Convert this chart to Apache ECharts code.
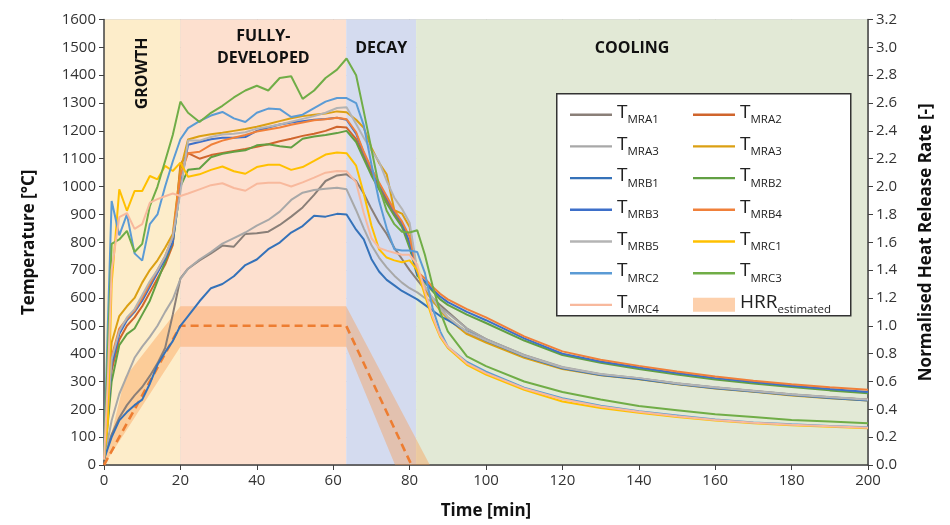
<!DOCTYPE html>
<html>
<head>
<meta charset="utf-8">
<script src="https://cdn.jsdelivr.net/npm/echarts@6/dist/echarts.min.js"></script>
<style>
  html, body { margin: 0; padding: 0; background: #fff; }
  #chart { width: 950px; height: 525px; }
</style>
</head>
<body>
<div id="chart"></div>
<script>
// time base shared by every temperature trace [min]
const times = [0, 1, 2, 4, 6, 8, 10, 12, 14, 16,
  18, 20, 22, 25, 28, 31, 34, 37, 40, 43,
  46, 49, 52, 55, 58, 61, 63.5, 66, 68, 70,
  72, 74, 76, 78, 80, 82, 84, 86, 88, 90,
  95, 100, 110, 120, 130, 140, 150, 160, 170, 180,
  190, 200];

// temperatures [°C]
const tMRA1 = [20, 70, 110, 170, 215, 250, 280, 320, 365, 420,
  540, 670, 705, 735, 760, 788, 784, 830, 832, 838,
  862, 892, 925, 970, 1020, 1040, 1044, 1020, 975, 920,
  870, 830, 780, 740, 700, 665, 630, 600, 575, 550,
  490, 452, 394, 350, 325, 311, 293, 278, 266, 253,
  243, 234];
const tMRA2 = [20, 170, 340, 450, 500, 530, 570, 620, 670, 720,
  790, 1080, 1120, 1100, 1113, 1121, 1128, 1135, 1143, 1152,
  1163, 1172, 1182, 1190, 1200, 1215, 1212, 1170, 1110, 1050,
  1000, 950, 900, 860, 790, 690, 640, 595, 560, 530,
  475, 445, 390, 348, 324, 310, 292, 277, 265, 252,
  242, 234];
const tMRA3 = [20, 90, 160, 255, 320, 385, 425, 460, 500, 550,
  595, 668, 705, 738, 765, 795, 815, 835, 860, 880,
  910, 952, 978, 988, 992, 996, 990, 915, 850, 790,
  745, 710, 680, 655, 635, 620, 600, 585, 565, 545,
  490, 452, 395, 352, 327, 312, 294, 279, 267, 254,
  244, 235];
const tMRA3b = [20, 250, 440, 535, 570, 600, 655, 700, 735, 780,
  830, 1060, 1169, 1181, 1188, 1193, 1200, 1207, 1215, 1225,
  1235, 1245, 1253, 1258, 1262, 1270, 1267, 1240, 1211, 1140,
  1085, 1044, 915, 903, 855, 690, 625, 592, 555, 525,
  470, 440, 385, 345, 322, 308, 290, 275, 263, 250,
  240, 232];
const tMRB1 = [20, 60, 100, 160, 190, 215, 235, 292, 360, 405,
  445, 500, 535, 588, 635, 650, 678, 718, 738, 775,
  799, 835, 858, 895, 892, 902, 900, 845, 810, 740,
  695, 665, 645, 625, 610, 595, 575, 555, 535, 520,
  480, 447, 390, 347, 323, 309, 291, 276, 264, 251,
  241, 232];
const tMRB2 = [20, 150, 300, 430, 470, 490, 540, 590, 660, 730,
  800, 1000, 1060, 1065, 1105, 1118, 1125, 1130, 1148, 1152,
  1145, 1140, 1172, 1180, 1185, 1192, 1200, 1160, 1100, 1040,
  990, 940, 895, 855, 780, 680, 655, 625, 595, 575,
  540, 510, 447, 395, 367, 345, 325, 307, 293, 280,
  268, 258];
const tMRB3 = [20, 180, 360, 470, 520, 550, 590, 640, 690, 740,
  800, 1000, 1150, 1160, 1170, 1175, 1175, 1178, 1200, 1212,
  1223, 1230, 1235, 1240, 1243, 1247, 1240, 1190, 1120, 1060,
  1010, 960, 910, 870, 800, 685, 660, 630, 605, 585,
  550, 520, 455, 400, 372, 350, 330, 312, 298, 285,
  273, 262];
const tMRB4 = [20, 200, 390, 490, 525, 555, 600, 650, 700, 750,
  820, 1040, 1120, 1125, 1150, 1165, 1175, 1185, 1198, 1205,
  1212, 1222, 1230, 1238, 1242, 1247, 1242, 1195, 1125, 1065,
  1015, 965, 915, 875, 820, 695, 670, 640, 615, 595,
  560, 530, 462, 408, 378, 356, 336, 318, 303, 290,
  279, 270];
const tMRB5 = [20, 200, 380, 480, 530, 560, 610, 660, 700, 750,
  820, 980, 1165, 1165, 1178, 1187, 1190, 1195, 1208, 1215,
  1223, 1233, 1243, 1253, 1265, 1282, 1285, 1225, 1175, 1130,
  1090, 1020, 960, 920, 870, 700, 640, 600, 560, 530,
  478, 448, 392, 350, 326, 312, 293, 278, 266, 253,
  243, 234];
const tMRC1 = [20, 150, 650, 990, 913, 984, 984, 1038, 1026, 1074,
  1056, 1086, 1035, 1044, 1060, 1072, 1055, 1046, 1070, 1078,
  1078, 1060, 1070, 1092, 1115, 1122, 1120, 1075, 975, 860,
  775, 745, 735, 728, 735, 700, 610, 525, 460, 420,
  360, 325, 270, 228, 205, 188, 172, 160, 150, 143,
  137, 132];
const tMRC2 = [20, 500, 948, 825, 900, 760, 734, 865, 900, 1000,
  1090, 1170, 1210, 1235, 1255, 1268, 1245, 1232, 1265, 1280,
  1278, 1250, 1258, 1282, 1305, 1318, 1318, 1300, 1220, 1080,
  950, 850, 775, 770, 770, 765, 690, 565, 480, 425,
  370, 335, 278, 240, 213, 193, 178, 163, 153, 146,
  140, 136];
const tMRC3 = [20, 400, 794, 810, 841, 765, 794, 930, 1000, 1092,
  1185, 1305, 1265, 1232, 1265, 1290, 1320, 1345, 1362, 1345,
  1390, 1396, 1315, 1345, 1390, 1420, 1460, 1400, 1270, 1135,
  1000, 913, 865, 838, 835, 843, 755, 645, 550, 480,
  390, 355, 300, 262, 235, 212, 197, 182, 172, 162,
  156, 150];
const tMRC4 = [20, 300, 700, 890, 905, 848, 865, 942, 955, 965,
  975, 966, 975, 990, 1005, 1012, 995, 985, 1010, 1014,
  1014, 1000, 1015, 1032, 1050, 1056, 1055, 1015, 905, 815,
  780, 770, 762, 755, 755, 720, 625, 535, 465, 425,
  365, 330, 275, 236, 210, 191, 175, 162, 152, 145,
  139, 134];

// estimated normalised heat release rate and its band
const hrrTime = [0, 20, 63.4, 80.5];
const hrrValue = [0, 1, 1, 0];
const bandUpperTime = [0, 5.5, 20, 63.4, 85.3];
const bandUpperValue = [0, 0.63, 1.14, 1.14, 0];
const bandLowerTime = [0, 20, 63.4, 76.2];
const bandLowerValue = [0, 0.85, 0.85, 0];

// fire phases [min]
const phaseNames = ["GROWTH", "FULLY-\nDEVELOPED", "DECAY", "COOLING"];
const phaseStart = [0, 20, 63.4, 81.7];
const phaseEnd = [20, 63.4, 81.7, 200];

const sensorNames = ["MRA1", "MRA2", "MRA3", "MRA3*", "MRB1", "MRB2", "MRB3",
  "MRB4", "MRB5", "MRC1", "MRC2", "MRC3", "MRC4"];
const sensorValues = [tMRA1, tMRA2, tMRA3, tMRA3b, tMRB1, tMRB2, tMRB3,
  tMRB4, tMRB5, tMRC1, tMRC2, tMRC3, tMRC4];

const SENSOR_COLORS = ["#8a7f78", "#d0652c", "#a8a8a8", "#dba013", "#3572b9",
  "#62a043", "#3d6fc9", "#f0803a", "#b4b4b4", "#ffc000", "#5b9bd5", "#70ad47", "#f8b99d"];
const PHASE_COLORS = ["#fdedca", "#fde0cf", "#d4dbef", "#e2e9d6"];
const BAND_FILL = "rgba(250,150,70,0.38)";
const FONT = "Open Sans";
const AXIS_COLOR = "#404040";
const GRID_COLOR = "rgba(110,110,110,0.28)";
// thin bar centred in the 42x14 legend cell
const LINE_ICON = "path://M0,0M0,6h42v2.4h-42zM42,14";

const chart = echarts.init(document.getElementById("chart"));

const pairs = (xs, ys) => xs.map((x, i) => [x, ys[i]]);

const phaseAreas = phaseNames.map((name, i) => [
  {
    xAxis: phaseStart[i],
    itemStyle: { color: PHASE_COLORS[i] },
    label: i === 0
      ? { show: true, formatter: name, position: "insideTop", rotate: 90,
          align: "right", verticalAlign: "middle", distance: 18 }
      : { show: true, formatter: name, position: "insideTop", distance: i === 1 ? 6 : 18,
          offset: i === 3 ? [-10, 0] : [0, 0] },
  },
  { xAxis: phaseEnd[i] },
]);

const legendFormatter = (name) =>
  name === "HRR" ? "{t|HRR}{s|estimated}" : "{t|T}{s|" + name.replace("*", "") + "}";

const legendText = {
  fontFamily: FONT,
  color: "#222",
  rich: {
    t: { fontFamily: FONT, fontSize: 19, color: "#222", lineHeight: 23, verticalAlign: "top" },
    s: { fontFamily: FONT, fontSize: 11.5, color: "#222", lineHeight: 23, verticalAlign: "bottom" },
  },
};

const legendBase = {
  orient: "vertical",
  top: 98,
  itemWidth: 42,
  itemHeight: 14,
  itemGap: 8.7,
  selectedMode: false,
  formatter: legendFormatter,
  textStyle: legendText,
  z: 10,
};

const lineItems = (names) => names.map((n) => ({ name: n, icon: LINE_ICON }));

const series = [
  {
    name: "phases",
    type: "line",
    data: [],
    z: 0,
    silent: true,
    markArea: {
      silent: true,
      label: { color: "#111", fontFamily: FONT, fontWeight: "bold", fontSize: 16, lineHeight: 22 },
      data: phaseAreas,
    },
  },
  {
    name: "HRR",
    type: "custom",
    yAxisIndex: 1,
    z: 2,
    silent: true,
    itemStyle: { color: "rgba(250,150,70,0.45)" },
    data: [[0, 0]],
    renderItem: function (params, api) {
      const pts = [];
      bandUpperTime.forEach((t, i) => pts.push(api.coord([t, bandUpperValue[i]])));
      for (let i = bandLowerTime.length - 1; i >= 0; i--) {
        pts.push(api.coord([bandLowerTime[i], bandLowerValue[i]]));
      }
      return { type: "polygon", shape: { points: pts }, style: { fill: BAND_FILL } };
    },
  },
  {
    name: "HRR",
    type: "line",
    yAxisIndex: 1,
    z: 3,
    symbol: "none",
    silent: true,
    lineStyle: { color: "#ed7d31", width: 2.6, type: [8, 5] },
    data: pairs(hrrTime, hrrValue),
  },
];

sensorNames.forEach((name, i) => {
  series.push({
    name: name,
    type: "line",
    z: 4,
    symbol: "none",
    silent: true,
    color: SENSOR_COLORS[i],
    itemStyle: { color: SENSOR_COLORS[i] },
    lineStyle: { color: SENSOR_COLORS[i], width: 2 },
    data: pairs(times, sensorValues[i]),
  });
});

chart.setOption({
  animation: false,
  grid: { left: 104, right: 82, top: 19.5, bottom: 58.5 },
  graphic: [
    {
      type: "rect",
      left: 556,
      top: 93,
      z: 9,
      shape: { width: 294, height: 222 },
      style: { fill: "#fff", stroke: "#333", lineWidth: 1.5 },
    },
  ],
  legend: [
    Object.assign({}, legendBase, {
      left: 565,
      data: lineItems(["MRA1", "MRA3", "MRB1", "MRB3", "MRB5", "MRC2", "MRC4"]),
    }),
    Object.assign({}, legendBase, {
      left: 688,
      data: lineItems(["MRA2", "MRA3*", "MRB2", "MRB4", "MRC1", "MRC3"])
        .concat([{ name: "HRR", icon: "rect" }]),
    }),
  ],
  xAxis: {
    type: "value",
    min: 0,
    max: 200,
    interval: 20,
    z: 1,
    name: "Time [min]",
    nameLocation: "middle",
    nameGap: 38,
    nameTextStyle: { fontFamily: FONT, fontWeight: "bold", fontSize: 17, color: "#111" },
    axisLine: { show: true, lineStyle: { color: AXIS_COLOR, width: 1.5 } },
    axisTick: { show: true, length: 5, lineStyle: { color: AXIS_COLOR } },
    axisLabel: { fontFamily: FONT, fontSize: 15, color: "#333", margin: 8 },
    splitLine: { show: true, lineStyle: { color: GRID_COLOR, width: 1 } },
  },
  yAxis: [
    {
      type: "value",
      min: 0,
      max: 1600,
      interval: 100,
      z: 1,
      name: "Temperature [°C]",
      nameLocation: "middle",
      nameGap: 66,
      nameRotate: 90,
      nameTextStyle: { fontFamily: FONT, fontWeight: "bold", fontSize: 17, color: "#111" },
      axisLine: { show: true, lineStyle: { color: AXIS_COLOR, width: 1.5 } },
      axisTick: { show: true, length: 5, lineStyle: { color: AXIS_COLOR } },
      axisLabel: { fontFamily: FONT, fontSize: 15, color: "#333", margin: 8,
        formatter: (v) => String(v) },
      splitLine: { show: true, lineStyle: { color: GRID_COLOR, width: 1 } },
    },
    {
      type: "value",
      min: 0,
      max: 3.2,
      interval: 0.2,
      z: 1,
      position: "right",
      name: "Normalised Heat Release Rate [-]",
      nameLocation: "middle",
      nameGap: 50,
      nameRotate: 90,
      nameTextStyle: { fontFamily: FONT, fontWeight: "bold", fontSize: 17, color: "#111" },
      axisLine: { show: true, lineStyle: { color: AXIS_COLOR, width: 1.5 } },
      axisTick: { show: true, length: 5, lineStyle: { color: AXIS_COLOR } },
      axisLabel: { fontFamily: FONT, fontSize: 15, color: "#333", margin: 8,
        formatter: (v) => v.toFixed(1) },
      splitLine: { show: false },
    },
  ],
  series: series,
});
</script>
</body>
</html>
